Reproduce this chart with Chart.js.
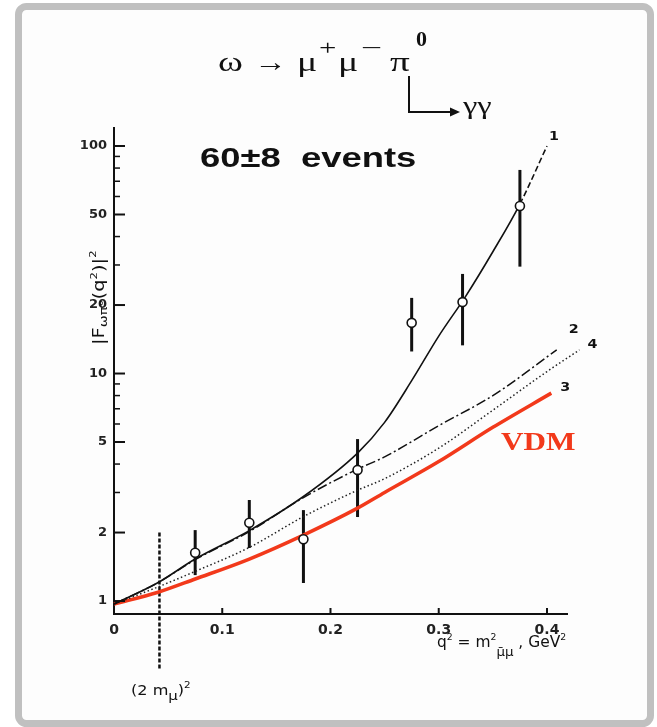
<!DOCTYPE html>
<html>
<head>
<meta charset="utf-8">
<script src="https://cdn.jsdelivr.net/npm/chart.js@4.4.0/dist/chart.umd.min.js"></script>
<style>
html,body{margin:0;padding:0;background:#fff;}
#wrap{width:657px;height:727px;}
</style>
</head>
<body>
<div id="wrap"><canvas id="c" width="657" height="727"></canvas></div>
<script>
// values (q^2 in GeV^2, |F|^2)
var curve1X=[0,0.04,0.075,0.125,0.175,0.225,0.25,0.275,0.3,0.325,0.35,0.375,0.4];
var curve1Y=[0.97,1.2,1.53,2.04,2.88,4.47,6.1,9.3,14.6,21.9,34.3,55.6,100];
var curve2X=[0,0.04,0.075,0.125,0.175,0.225,0.25,0.3,0.35,0.409];
var curve2Y=[0.97,1.2,1.52,2.02,2.85,3.8,4.3,5.9,8.0,12.7];
var curve4X=[0,0.04,0.075,0.125,0.175,0.225,0.25,0.3,0.35,0.4,0.43];
var curve4Y=[0.97,1.15,1.35,1.72,2.35,3.07,3.45,4.7,6.9,10.2,12.7];
var vdmX=[0,0.04,0.075,0.125,0.175,0.225,0.25,0.3,0.35,0.404];
var vdmY=[0.97,1.09,1.25,1.53,1.95,2.56,3.0,4.1,5.8,8.2];
var pointX=[0.075,0.125,0.175,0.225,0.275,0.322,0.375];
var pointY=[1.63,2.21,1.87,3.77,16.7,20.6,54.5];
var errLow=[1.30,1.71,1.20,2.34,12.5,13.3,29.5];
var errHigh=[2.05,2.78,2.51,5.15,21.5,27.4,78.5];
var yTicks=[1,2,5,10,20,50,100];
var yMinor=[3,4,6,7,8,9,30,40,60,70,80,90];
var xTicks=[0,0.1,0.2,0.3,0.4];
var thresholdX=0.042;   // (2 m_mu)^2
var thresholdY=[2.0,0.5];

function xy(xs,ys){ return xs.map(function(x,i){ return {x:x,y:ys[i]}; }); }

// draws a row of text pieces, horizontally stretched like the scanned figure
function rich(ctx,parts,x,y,sx){
  var starts=[],cx=0;
  ctx.save();
  ctx.translate(x,y);
  ctx.scale(sx,1);
  parts.forEach(function(p){
    ctx.font=p[1];
    var w=ctx.measureText(p[0]).width;
    starts.push([x+cx*sx,x+(cx+w)*sx]);
    ctx.fillText(p[0],cx,p[2]||0);
    cx+=w;
  });
  ctx.restore();
  return starts;
}

var serif='"Liberation Serif", serif';
var sans='"DejaVu Sans", sans-serif';

var overlay={
  id:'overlay',
  beforeDraw:function(chart){
    var ctx=chart.ctx;
    ctx.save();
    ctx.fillStyle='#fff';
    ctx.fillRect(0,0,chart.width,chart.height);
    ctx.beginPath();
    ctx.roundRect(18.5,6.5,632,717,8);
    ctx.fillStyle='#fdfdfd';
    ctx.fill();
    ctx.lineWidth=7;
    ctx.strokeStyle='#c0c0c0';
    ctx.stroke();
    ctx.restore();
  },
  beforeDatasetsDraw:function(chart){
    var ctx=chart.ctx,xs=chart.scales.x,ys=chart.scales.y;
    ctx.save();
    ctx.strokeStyle='#111';
    ctx.lineWidth=3;
    for(var i=0;i<pointX.length;i++){
      var px=xs.getPixelForValue(pointX[i]);
      ctx.beginPath();
      ctx.moveTo(px,ys.getPixelForValue(errHigh[i]));
      ctx.lineTo(px,ys.getPixelForValue(errLow[i]));
      ctx.stroke();
    }
    var tx=xs.getPixelForValue(thresholdX);
    ctx.setLineDash([4,2]);
    ctx.lineWidth=2.5;
    ctx.beginPath();
    ctx.moveTo(tx,ys.getPixelForValue(thresholdY[0]));
    ctx.lineTo(tx,ys.getPixelForValue(thresholdY[1]));
    ctx.stroke();
    ctx.restore();
  },
  afterDraw:function(chart){
    var ctx=chart.ctx,xs=chart.scales.x,ys=chart.scales.y,a=chart.chartArea;
    ctx.save();
    // inward tick marks
    ctx.strokeStyle='#111';
    ctx.lineWidth=2;
    yTicks.forEach(function(v){
      var py=ys.getPixelForValue(v);
      ctx.beginPath(); ctx.moveTo(a.left,py); ctx.lineTo(a.left+11,py); ctx.stroke();
    });
    ctx.lineWidth=1.5;
    yMinor.forEach(function(v){
      var py=ys.getPixelForValue(v);
      ctx.beginPath(); ctx.moveTo(a.left,py); ctx.lineTo(a.left+6,py); ctx.stroke();
    });
    ctx.lineWidth=2;
    xTicks.slice(1).forEach(function(v){
      var px=xs.getPixelForValue(v);
      ctx.beginPath(); ctx.moveTo(px,a.bottom); ctx.lineTo(px,a.bottom-6); ctx.stroke();
    });

    // reaction title, pieces placed as in the scan
    ctx.fillStyle='#111';
    ctx.textBaseline='alphabetic';
    var big='27px '+serif,sup='22px '+serif;
    rich(ctx,[['\u03c9',big,0]],218,71,1.4);
    rich(ctx,[['\u2192',big,0]],254,71,1.2);
    rich(ctx,[['\u03bc',big,0]],297,71,1.4);
    rich(ctx,[['+',sup,-16]],319,71,1.4);
    rich(ctx,[['\u03bc',big,0]],338,71,1.4);
    rich(ctx,[['\u2212',sup,-16]],361,71,1.7);
    var pi=rich(ctx,[['\u03c0',big,0]],390,71,1.45)[0];
    rich(ctx,[['0','bold 20px '+serif,-25]],416,71,1.1);
    var pix=pi[0]+19;
    ctx.strokeStyle='#111';
    ctx.lineWidth=2;
    ctx.beginPath(); ctx.moveTo(pix,76); ctx.lineTo(pix,112); ctx.lineTo(452,112); ctx.stroke();
    ctx.beginPath(); ctx.moveTo(460,112); ctx.lineTo(450,107.5); ctx.lineTo(450,116.5); ctx.closePath(); ctx.fill();
    rich(ctx,[['\u03b3\u03b3','26px '+serif,0]],463,114,1.25);

    // event count
    rich(ctx,[['60\u00b18  events','bold 28px "Liberation Sans", sans-serif',0]],200,167,1.3);

    // VDM
    ctx.fillStyle='#f2391b';
    rich(ctx,[['VDM','bold 26px '+serif,0]],501,450,1.2);

    // curve numbers
    ctx.fillStyle='#111';
    var f='bold 13px '+sans;
    function lab(t,xv,yv,dx,dy){ rich(ctx,[[t,f,0]],xs.getPixelForValue(xv)+dx,ys.getPixelForValue(yv)+dy,1.1); }
    lab('1',curve1X[curve1X.length-1],curve1Y[curve1Y.length-1],2,-6);
    lab('2',curve2X[curve2X.length-1],curve2Y[curve2Y.length-1],12,-17);
    lab('4',curve4X[curve4X.length-1],curve4Y[curve4Y.length-1],8,-2);
    lab('3',vdmX[vdmX.length-1],vdmY[vdmY.length-1],9,-2);

    // y axis title, rotated
    ctx.save();
    ctx.translate(104,345);
    ctx.rotate(-Math.PI/2);
    rich(ctx,[
      ['|F','15px '+sans,0],
      ['\u03c9\u03c0\u00b0','11px '+sans,3],
      ['(q','15px '+sans,0],
      ['2','9px '+sans,-7],
      [')|','15px '+sans,0],
      ['2','9px '+sans,-8]
    ],0,0,1.3);
    ctx.restore();

    // x axis title
    rich(ctx,[
      ['q','15px '+sans,0],
      ['2','9px '+sans,-7],
      [' = m','15px '+sans,0],
      ['2','9px '+sans,-7],
      ['\u03bc\u0304\u03bc','13px '+sans,9],
      [' , GeV','15px '+sans,0],
      ['2','9px '+sans,-7]
    ],437,647,1.03);

    // threshold label
    rich(ctx,[
      ['(2 m','14px '+sans,0],
      ['\u03bc','13px '+sans,5],
      [')','14px '+sans,0],
      ['2','9px '+sans,-7]
    ],131,695,1.15);
    ctx.restore();
  }
};

var chart=new Chart(document.getElementById('c'),{
  type:'line',
  data:{
    datasets:[
      {label:'data',type:'scatter',data:xy(pointX,pointY),showLine:false,
       pointRadius:4.5,pointBackgroundColor:'#fff',pointBorderColor:'#111',pointBorderWidth:1.6},
      {label:'1',data:xy(curve1X,curve1Y),borderColor:'#111',borderWidth:1.6,pointRadius:0,
       cubicInterpolationMode:'monotone',clip:false,
       segment:{borderDash:function(c){ return c.p0DataIndex>=curve1X.length-2?[6,3]:undefined; }}},
      {label:'2',data:xy(curve2X,curve2Y),borderColor:'#111',borderWidth:1.5,pointRadius:0,
       borderDash:[10,3,2,3],cubicInterpolationMode:'monotone',clip:false},
      {label:'4',data:xy(curve4X,curve4Y),borderColor:'#222',borderWidth:1.5,pointRadius:0,
       borderDash:[1.5,2.5],cubicInterpolationMode:'monotone',clip:false},
      {label:'VDM',data:xy(vdmX,vdmY),borderColor:'#f2391b',borderWidth:3.5,pointRadius:0,
       cubicInterpolationMode:'monotone',clip:false}
    ]
  },
  options:{
    responsive:false,
    animation:false,
    devicePixelRatio:1,
    layout:{padding:{left:69,right:90,top:128,bottom:78}},
    plugins:{legend:{display:false},tooltip:{enabled:false},title:{display:false}},
    scales:{
      x:{
        type:'linear',min:0,max:0.4185,
        grid:{display:false,drawTicks:false},
        border:{display:true,color:'#111',width:2},
        ticks:{font:{family:'DejaVu Sans',size:14,weight:'bold'},color:'#222',padding:8,
               maxRotation:0,autoSkip:false,
               callback:function(v){ return v===0?'0':v.toFixed(1); }},
        afterBuildTicks:function(s){ s.ticks=xTicks.map(function(v){ return {value:v}; }); },
        afterFit:function(s){ s.height=35; }
      },
      y:{
        type:'logarithmic',min:0.877,max:120,
        grid:{display:false,drawTicks:false},
        border:{display:true,color:'#111',width:2},
        ticks:{font:{family:'DejaVu Sans',size:13,weight:'bold'},color:'#222',padding:7,
               autoSkip:false,
               callback:function(v){ return String(v); }},
        afterBuildTicks:function(s){ s.ticks=yTicks.map(function(v){ return {value:v}; }); },
        afterFit:function(s){ s.width=45; }
      }
    }
  },
  plugins:[overlay]
});
</script>
</body>
</html>
